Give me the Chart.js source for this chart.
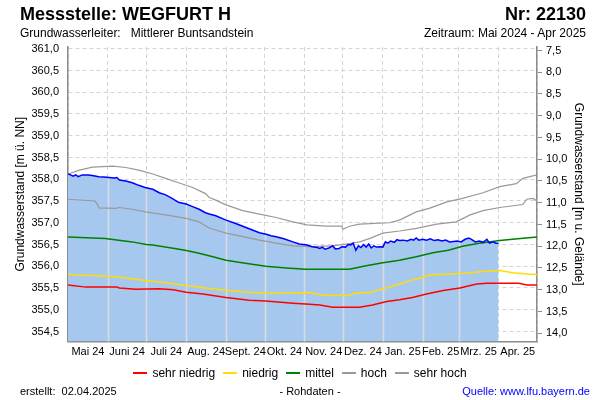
<!DOCTYPE html>
<html>
<head>
<meta charset="utf-8">
<script src="https://cdn.jsdelivr.net/npm/chart.js@4.4.1/dist/chart.umd.min.js"></script>
<style>
  body { margin: 0; background: #fff; font-family: "Liberation Sans", Arial, sans-serif; }
  #wrap { position: relative; width: 600px; height: 400px; overflow: hidden; }
  #gwChart { position: absolute; left: 0; top: 0; }
  .t { position: absolute; white-space: nowrap; color: #000; line-height: 1; }
  #legend { position: absolute; left: 0; width: 600px; top: 367px; display: flex; justify-content: center; font-size: 12px; line-height: 1; }
  #legend .it { display: flex; align-items: center; margin: 0 4px; }
  #legend .ln { width: 14px; height: 2px; margin-right: 5px; }
</style>
</head>
<body>
<div id="wrap">
  <canvas id="gwChart" width="600" height="400"></canvas>
  <div class="t" style="left:20px;top:5px;font-size:18px;font-weight:bold">Messstelle: WEGFURT H</div>
  <div class="t" style="right:14px;top:5px;font-size:18px;font-weight:bold">Nr: 22130</div>
  <div class="t" style="left:20px;top:27px;font-size:12px">Grundwasserleiter:&nbsp;&nbsp; Mittlerer Buntsandstein</div>
  <div class="t" style="right:14px;top:27px;font-size:12px">Zeitraum: Mai 2024 - Apr 2025</div>
  <div id="legend"></div>
  <div class="t" style="left:20px;top:386px;font-size:11px">erstellt:&nbsp; 02.04.2025</div>
  <div class="t" style="left:250px;width:120px;text-align:center;top:386px;font-size:11px">- Rohdaten -</div>
  <div class="t" style="right:10px;top:386px;font-size:11px;color:#0000ff">Quelle: www.lfu.bayern.de</div>
</div>
<script>
// Tage ab 01.05.2024
var monthLabels = ['Mai 24', 'Juni 24', 'Juli 24', 'Aug. 24', 'Sept. 24', 'Okt. 24', 'Nov. 24', 'Dez. 24', 'Jan. 25', 'Feb. 25', 'Mrz. 25', 'Apr. 25'];
var monthStarts = [0, 31, 61, 92, 123, 153, 184, 214, 245, 276, 304, 335, 365];
var leftTicks = [354.5, 355.0, 355.5, 356.0, 356.5, 357.0, 357.5, 358.0, 358.5, 359.0, 359.5, 360.0, 360.5, 361.0];
var rightTicks = [7.5, 8.0, 8.5, 9.0, 9.5, 10.0, 10.5, 11.0, 11.5, 12.0, 12.5, 13.0, 13.5, 14.0];

// Messwerte (m ü. NN)
var messDays = [0, 2, 4, 6, 8, 11, 16, 20, 24, 28, 32, 36, 38, 40, 45, 50, 55, 60, 66, 71, 76, 81, 86, 92, 97, 102, 107, 110, 115, 123, 130, 136, 142, 149, 155, 158, 162, 168, 175, 180, 186, 190, 194, 196, 198, 200, 203, 206, 208, 211, 213, 216, 218, 220, 222, 224, 226, 228, 230, 232, 234, 236, 238, 240, 243, 245, 247, 249, 251, 254, 256, 258, 261, 264, 267, 269, 271, 273, 276, 279, 282, 285, 288, 291, 294, 297, 300, 303, 306, 309, 312, 314, 317, 320, 323, 326, 328, 331, 333, 335];
var messWerte = [358.12, 358.10, 358.07, 358.10, 358.06, 358.10, 358.10, 358.08, 358.06, 358.05, 358.04, 358.03, 358.04, 357.98, 357.96, 357.92, 357.86, 357.81, 357.77, 357.69, 357.64, 357.56, 357.47, 357.43, 357.37, 357.31, 357.23, 357.20, 357.16, 357.06, 356.99, 356.92, 356.85, 356.77, 356.73, 356.70, 356.68, 356.63, 356.56, 356.51, 356.49, 356.45, 356.43, 356.41, 356.44, 356.39, 356.42, 356.47, 356.40, 356.41, 356.45, 356.44, 356.50, 356.49, 356.53, 356.37, 356.47, 356.43, 356.50, 356.44, 356.51, 356.42, 356.47, 356.44, 356.45, 356.44, 356.56, 356.53, 356.58, 356.55, 356.61, 356.59, 356.60, 356.58, 356.62, 356.60, 356.65, 356.60, 356.62, 356.60, 356.63, 356.59, 356.61, 356.58, 356.60, 356.56, 356.57, 356.58, 356.56, 356.62, 356.65, 356.62, 356.56, 356.58, 356.55, 356.62, 356.53, 356.56, 356.53, 356.53];

// Vergleichskurven
var sehrHochDays = [0, 9, 19, 35, 45, 55, 66, 76, 86, 97, 107, 110, 115, 123, 136, 149, 162, 175, 186, 201, 213, 214, 219, 227, 250, 258, 271, 281, 295, 307, 323, 336, 349, 354, 365];
var sehrHoch = [358.12, 358.21, 358.28, 358.30, 358.27, 358.21, 358.12, 358.02, 357.92, 357.81, 357.67, 357.58, 357.52, 357.41, 357.28, 357.20, 357.12, 357.02, 356.95, 356.92, 356.92, 356.85, 356.92, 356.97, 357.00, 357.06, 357.25, 357.33, 357.48, 357.56, 357.69, 357.83, 357.90, 358.02, 358.10];
var hochDays = [0, 21, 23, 24, 37, 40, 50, 60, 76, 92, 102, 110, 113, 123, 136, 149, 162, 175, 188, 206, 219, 227, 235, 245, 258, 271, 287, 302, 313, 323, 336, 354, 357, 362, 365];
var hoch = [357.54, 357.50, 357.41, 357.34, 357.33, 357.35, 357.31, 357.25, 357.18, 357.10, 357.02, 356.88, 356.85, 356.76, 356.68, 356.60, 356.53, 356.47, 356.45, 356.47, 356.52, 356.56, 356.64, 356.76, 356.81, 356.87, 356.97, 357.02, 357.18, 357.28, 357.35, 357.42, 357.54, 357.56, 357.50];
var mittelDays = [0, 29, 50, 61, 66, 83, 92, 102, 115, 123, 138, 154, 170, 185, 219, 232, 245, 258, 271, 284, 296, 307, 320, 336, 350, 365];
var mittel = [356.67, 356.64, 356.56, 356.50, 356.49, 356.41, 356.36, 356.30, 356.20, 356.14, 356.07, 356.00, 355.96, 355.93, 355.93, 356.01, 356.08, 356.14, 356.22, 356.31, 356.37, 356.46, 356.53, 356.59, 356.63, 356.67];
var niedrigDays = [0, 5, 24, 38, 53, 60, 76, 92, 107, 123, 138, 154, 185, 188, 193, 202, 218, 223, 236, 243, 250, 258, 266, 273, 281, 297, 310, 326, 336, 346, 357, 365];
var niedrig = [355.82, 355.80, 355.78, 355.75, 355.70, 355.67, 355.62, 355.56, 355.50, 355.45, 355.41, 355.38, 355.38, 355.40, 355.36, 355.33, 355.33, 355.38, 355.40, 355.47, 355.52, 355.59, 355.67, 355.72, 355.80, 355.82, 355.84, 355.89, 355.90, 355.85, 355.82, 355.81];
var sehrNiedrigDays = [0, 14, 38, 40, 53, 71, 82, 92, 105, 123, 141, 154, 175, 185, 196, 206, 227, 237, 248, 258, 268, 279, 292, 305, 318, 326, 351, 357, 365];
var sehrNiedrig = [355.57, 355.52, 355.52, 355.50, 355.47, 355.48, 355.46, 355.40, 355.36, 355.28, 355.22, 355.20, 355.15, 355.13, 355.11, 355.06, 355.06, 355.11, 355.19, 355.23, 355.28, 355.36, 355.44, 355.50, 355.59, 355.61, 355.61, 355.57, 355.57];

var gelaende = 368.46;   // Bezug fuer rechte Achse
var yMin = 354.27, yMax = 361.04;

function pts(days, vals) {
  return days.map(function (d, i) { return { x: d, y: vals[i] }; });
}

var legendItems = [
  ['sehr niedrig', '#ff0000'],
  ['niedrig', '#ffdd00'],
  ['mittel', '#008000'],
  ['hoch', '#999999'],
  ['sehr hoch', '#999999']
];
var lg = document.getElementById('legend');
legendItems.forEach(function (it) {
  var d = document.createElement('div');
  d.className = 'it';
  d.innerHTML = '<span class="ln" style="background:' + it[1] + '"></span><span>' + it[0] + '</span>';
  lg.appendChild(d);
});

// helle Monatslinien innerhalb der Flaeche
var monthLinesInArea = {
  id: 'monthLinesInArea',
  afterDatasetDraw: function (chart, args) {
    if (args.index !== 6) return;
    var ctx = chart.ctx, xs = chart.scales.x, ys = chart.scales.y;
    ctx.save();
    ctx.strokeStyle = '#dcdcdc';
    ctx.lineWidth = 1.5;
    for (var m = 1; m < monthStarts.length - 2; m++) {
      var d = monthStarts[m];
      var v = null;
      for (var i = 1; i < messDays.length; i++) {
        if (messDays[i] >= d) {
          var t = (d - messDays[i - 1]) / (messDays[i] - messDays[i - 1]);
          v = messWerte[i - 1] + t * (messWerte[i] - messWerte[i - 1]);
          break;
        }
      }
      var px = Math.round(xs.getPixelForValue(d)) + 0.5;
      ctx.beginPath();
      ctx.moveTo(px, chart.chartArea.bottom);
      ctx.lineTo(px, ys.getPixelForValue(v) + 1);
      ctx.stroke();
    }
    ctx.restore();
  }
};

new Chart(document.getElementById('gwChart'), {
  type: 'line',
  data: {
    datasets: [
      { label: 'Messwerte', data: pts(messDays, messWerte), borderColor: '#0000ff', borderWidth: 1.5, pointRadius: 0, fill: false, order: 0 },
      { label: 'sehr niedrig', data: pts(sehrNiedrigDays, sehrNiedrig), borderColor: '#ff0000', borderWidth: 1.5, pointRadius: 0, fill: false, order: 1 },
      { label: 'niedrig', data: pts(niedrigDays, niedrig), borderColor: '#ffdd00', borderWidth: 1.5, pointRadius: 0, fill: false, order: 2 },
      { label: 'mittel', data: pts(mittelDays, mittel), borderColor: '#008000', borderWidth: 1.5, pointRadius: 0, fill: false, order: 3 },
      { label: 'hoch', data: pts(hochDays, hoch), borderColor: '#999999', borderWidth: 1.2, pointRadius: 0, fill: false, order: 4 },
      { label: 'sehr hoch', data: pts(sehrHochDays, sehrHoch), borderColor: '#999999', borderWidth: 1.2, pointRadius: 0, fill: false, order: 5 },
      { label: 'Flaeche', data: pts(messDays, messWerte), borderWidth: 0, borderColor: 'rgba(0,0,0,0)', backgroundColor: '#a6c8ee', pointRadius: 0, fill: 'start', order: 10 }
    ]
  },
  options: {
    responsive: false,
    animation: false,
    layout: { padding: { top: 47, bottom: 38, left: 0, right: 0 } },
    plugins: { legend: { display: false }, tooltip: { enabled: false } },
    scales: {
      x: {
        type: 'linear', position: 'bottom', weight: 0,
        min: 0, max: 365,
        afterBuildTicks: function (s) { s.ticks = monthStarts.map(function (v) { return { value: v }; }); },
        afterFit: function (s) { s.height = 0; },
        ticks: { display: false },
        grid: { color: '#d4d4d4', lineWidth: 1, drawTicks: false },
        border: { color: '#8c8c8c', width: 1.5, dash: [4, 3] }
      },
      xl: {
        type: 'linear', position: 'bottom', weight: 1,
        min: 0, max: 365,
        afterBuildTicks: function (s) {
          s.ticks = monthLabels.map(function (l, i) { return { value: (monthStarts[i] + monthStarts[i + 1]) / 2 }; });
        },
        afterFit: function (s) { s.height = 20.5; },
        ticks: {
          autoSkip: false, maxRotation: 0, padding: 4, color: '#000',
          font: { family: '"Liberation Sans", Arial, sans-serif', size: 11 },
          callback: function (v, i) { return monthLabels[i]; }
        },
        grid: { display: false, drawTicks: false },
        border: { display: false }
      },
      y: {
        position: 'left', min: yMin, max: yMax,
        afterBuildTicks: function (s) { s.ticks = leftTicks.map(function (v) { return { value: v }; }); },
        afterFit: function (s) { s.width = 68; },
        ticks: {
          padding: 9, color: '#000',
          font: { family: '"Liberation Sans", Arial, sans-serif', size: 11 },
          callback: function (v) { return v.toFixed(1).replace('.', ','); }
        },
        grid: { color: '#d4d4d4', lineWidth: 1, drawTicks: false },
        border: { color: '#8c8c8c', width: 1.5, dash: [4, 3] },
        title: {
          display: true, text: 'Grundwasserstand [m ü. NN]', color: '#000',
          font: { family: '"Liberation Sans", Arial, sans-serif', size: 12 },
          padding: { top: 13.5, bottom: 0 }
        }
      },
      y2: {
        position: 'right', display: true, reverse: true,
        min: gelaende - yMax, max: gelaende - yMin,
        afterBuildTicks: function (s) { s.ticks = rightTicks.map(function (v) { return { value: v }; }); },
        afterFit: function (s) { s.width = 63; },
        ticks: {
          padding: 4, color: '#000',
          font: { family: '"Liberation Sans", Arial, sans-serif', size: 11 },
          callback: function (v) { return v.toFixed(1).replace('.', ','); }
        },
        grid: { drawOnChartArea: false, drawTicks: true, tickLength: 5, color: '#8c8c8c' },
        border: { color: '#8c8c8c', width: 1.5 },
        title: {
          display: true, text: 'Grundwasserstand [m u. Gelände]', color: '#000',
          font: { family: '"Liberation Sans", Arial, sans-serif', size: 12 },
          padding: { top: 14, bottom: 0 }
        }
      }
    }
  },
  plugins: [monthLinesInArea]
});
</script>
</body>
</html>
